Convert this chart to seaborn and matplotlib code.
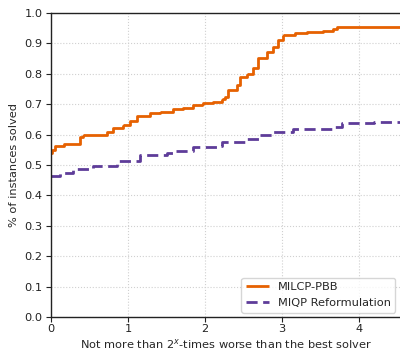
import matplotlib
matplotlib.use("Agg")
import matplotlib.pyplot as plt
import seaborn as sns
import pandas as pd

# Performance profile: log2 ratio vs. fraction of instances solved
pbb_x = [0.0, 0.01, 0.05, 0.17, 0.38, 0.42, 0.73, 0.81, 0.94, 1.03, 1.12, 1.29, 1.42,
         1.58, 1.71, 1.84, 1.97, 2.10, 2.22, 2.26, 2.30, 2.42, 2.45, 2.55, 2.62,
         2.69, 2.81, 2.88, 2.94, 3.01, 3.17, 3.32, 3.53, 3.66, 3.71, 4.53]
pbb_y = [0.540, 0.550, 0.563, 0.570, 0.593, 0.599, 0.610, 0.623, 0.632, 0.646, 0.661,
         0.670, 0.674, 0.683, 0.686, 0.697, 0.704, 0.708, 0.716, 0.725, 0.747,
         0.763, 0.788, 0.800, 0.818, 0.851, 0.873, 0.889, 0.911, 0.928, 0.933,
         0.936, 0.941, 0.946, 0.955, 0.955]

miqp_x = [0.0, 0.12, 0.29, 0.55, 0.86, 1.16, 1.51, 1.58, 1.84, 2.15, 2.22, 2.55, 2.71,
          2.88, 3.14, 3.66, 3.78, 4.11, 4.19, 4.53]
miqp_y = [0.464, 0.473, 0.486, 0.497, 0.513, 0.533, 0.538, 0.547, 0.560, 0.563, 0.575,
          0.584, 0.599, 0.610, 0.620, 0.624, 0.637, 0.639, 0.642, 0.642]

labels = ["MILCP-PBB", "MIQP Reformulation"]
colors = ["#e66101", "#5e3c99"]

df = pd.concat([
    pd.DataFrame({"x": pbb_x, "y": pbb_y, "solver": labels[0]}),
    pd.DataFrame({"x": miqp_x, "y": miqp_y, "solver": labels[1]}),
])

sns.set_style("ticks")
plt.rcParams["font.family"] = ["DejaVu Sans"]

fs = 8.2
fig = plt.figure(figsize=(4.0, 3.5), dpi=100)
ax = fig.add_axes([0.1275, 0.094, 0.8725, 0.869])

sns.lineplot(data=df, x="x", y="y", hue="solver", style="solver",
             palette=colors, dashes=[(1, 0), (4, 2)], drawstyle="steps-post",
             linewidth=2, ax=ax, sort=False, estimator=None)

ax.set_xlim(0, 4.53)
ax.set_ylim(0, 1.0)
ax.set_xticks([0, 1, 2, 3, 4])
ax.set_yticks([i / 10 for i in range(11)])
ax.set_yticklabels([f"{i / 10:.1f}" for i in range(11)])
ax.tick_params(labelsize=fs, length=3.5, width=0.8, colors="#222222", pad=2.5)
ax.tick_params(axis="x", pad=1.5)
ax.grid(True, linestyle=":", color="#d0d0d0", linewidth=0.8)
for side in ["left", "bottom", "top"]:
    ax.spines[side].set_visible(True)
    ax.spines[side].set_color("#222222")
    ax.spines[side].set_linewidth(1.0)
ax.spines["right"].set_visible(False)

ax.set_xlabel("Not more than 2$^x$-times worse than the best solver", fontsize=fs,
              va="center")
ax.xaxis.set_label_coords(0.5, -0.088)
ax.set_ylabel("% of instances solved", fontsize=fs, labelpad=4)

leg = ax.legend(loc="lower right", fontsize=fs, frameon=True, handlelength=2.0,
                borderaxespad=0.4)
leg.set_title(None)

fig.savefig("out.png", dpi=100)
